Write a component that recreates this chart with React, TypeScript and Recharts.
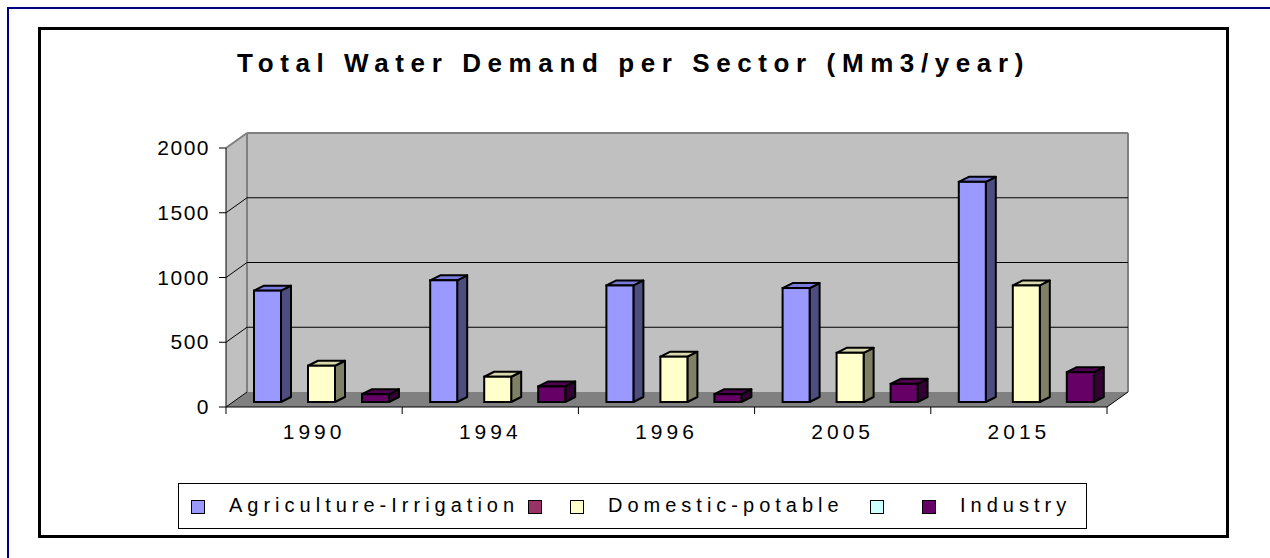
import React from 'react';
import { BarChart, Bar, XAxis, YAxis, ReferenceArea, ReferenceLine, Legend } from 'recharts';

const years = ['1990', '1994', '1996', '2005', '2015'];
const agriculture = [860, 940, 900, 880, 1700];
const domestic = [280, 195, 350, 380, 900];
const industry = [60, 120, 60, 140, 230];
const yTicks = [0, 500, 1000, 1500, 2000];
const gridValues = [500, 1000, 1500];

const legendNames = ['Agriculture-Irrigation', '', 'Domestic-potable', '', 'Industry'];
const legendColors = ['#9999FF', '#993366', '#FFFFCC', '#CCFFFF', '#660066'];

const data = years.map((y, i) => ({
  year: y,
  agriculture: agriculture[i],
  domestic: domestic[i],
  industry: industry[i],
}));

const FONT = '"Liberation Sans", Arial, sans-serif';
const DX = 21; // wall depth
const DY = -15;
const BDX = 10; // bar depth
const BDY = -5;
const SHIFT_X = 7; // bars at mid-depth
const SHIFT_Y = -5;

// legend layout (px from legend box left)
const legendSquareLeft = [12, 349, 391, 691, 743];
const legendTextLeft = [50, null, 429, null, 781];

const make3DBar = (front: string, top: string, side: string) => (props: any) => {
  const { x, y, width, height } = props;
  if (width == null || height == null || height <= 0) return <g />;
  const fx = x + SHIFT_X;
  const fy = y + SHIFT_Y;
  const w = width;
  const h = height;
  const topPts = `${fx},${fy} ${fx + BDX},${fy + BDY} ${fx + w + BDX},${fy + BDY} ${fx + w},${fy}`;
  const sidePts = `${fx + w},${fy} ${fx + w + BDX},${fy + BDY} ${fx + w + BDX},${fy + h + BDY} ${fx + w},${fy + h}`;
  return (
    <g>
      <polygon points={sidePts} fill={side} stroke="#000" strokeWidth={2} strokeLinejoin="round" />
      <polygon points={topPts} fill={top} stroke="#000" strokeWidth={2} strokeLinejoin="round" />
      <rect x={fx} y={fy} width={w} height={h} fill={front} stroke="#000" strokeWidth={2} />
    </g>
  );
};

const WallShape = (props: any) => {
  const { x, y, width, height } = props;
  const b = y + height;
  const side = `${x},${b} ${x},${y} ${x + DX},${y + DY} ${x + DX},${b + DY}`;
  const floor = `${x},${b} ${x + width},${b} ${x + width + DX},${b + DY} ${x + DX},${b + DY}`;
  return (
    <g>
      <polygon points={side} fill="#C0C0C0" />
      <rect x={x + DX} y={y + DY} width={width} height={height} fill="#C0C0C0" />
      <polygon points={floor} fill="#808080" />
      <line x1={x} y1={y} x2={x + DX} y2={y + DY} stroke="#808080" strokeWidth={2} />
      <line x1={x + DX} y1={y + DY} x2={x + DX + width} y2={y + DY} stroke="#808080" strokeWidth={2} />
      <line x1={x + DX} y1={y + DY} x2={x + DX} y2={b + DY} stroke="#808080" strokeWidth={2} />
      <line x1={x + DX + width} y1={y + DY} x2={x + DX + width} y2={b + DY} stroke="#808080" strokeWidth={2} />
      <line x1={x} y1={b} x2={x + DX} y2={b + DY} stroke="#000" strokeWidth={1} />
      <line x1={x + width} y1={b} x2={x + width + DX} y2={b + DY} stroke="#000" strokeWidth={1} />
    </g>
  );
};

const GridShape = (props: any) => {
  const { x1, y1, x2, y2 } = props;
  return (
    <g>
      <line x1={x1} y1={y1} x2={x1 + DX} y2={y1 + DY} stroke="#000" strokeWidth={1} />
      <line x1={x1 + DX} y1={y1 + DY} x2={x2 + DX} y2={y2 + DY} stroke="#000" strokeWidth={1} />
    </g>
  );
};

const YTick = (props: any) => {
  const { x, y, payload } = props;
  return (
    <text x={x} y={y} dy={7} textAnchor="end" fontFamily={FONT} fontSize={21} letterSpacing={1.5} fill="#000">
      {payload.value}
    </text>
  );
};

const XTick = (props: any) => {
  const { x, y, payload, index, visibleTicksCount } = props;
  const half = payload.offset ?? 0;
  const isLast = index === (visibleTicksCount ?? years.length) - 1;
  return (
    <g>
      <line x1={x - half} y1={y} x2={x - half} y2={y + 7} stroke="#000" strokeWidth={1} />
      {isLast && <line x1={x + half} y1={y} x2={x + half} y2={y + 7} stroke="#000" strokeWidth={1} />}
      <text x={x} y={y} dy={32} textAnchor="middle" fontFamily={FONT} fontSize={21} letterSpacing={4} fill="#000">
        {payload.value}
      </text>
    </g>
  );
};

const LegendContent = () => (
  <div
    style={{
      position: 'relative',
      width: '100%',
      height: '100%',
      fontFamily: FONT,
      fontSize: 20,
      letterSpacing: 5,
      color: '#000',
    }}
  >
    {legendNames.map((name, i) => (
      <React.Fragment key={i}>
        <span
          style={{
            position: 'absolute',
            left: legendSquareLeft[i],
            top: 16,
            width: 14,
            height: 14,
            boxSizing: 'border-box',
            background: legendColors[i],
            border: '1.5px solid #000',
          }}
        />
        {name && (
          <span
            style={{
              position: 'absolute',
              left: legendTextLeft[i] as number,
              top: 10,
              lineHeight: '22px',
              whiteSpace: 'nowrap',
            }}
          >
            {name}
          </span>
        )}
      </React.Fragment>
    ))}
  </div>
);

export default function App() {
  return (
    <div style={{ position: 'relative', width: 1270, height: 558, background: '#fff', overflow: 'hidden' }}>
      <style>{'body{margin:0;}'}</style>
      <div
        style={{
          position: 'absolute',
          left: 7,
          top: 7,
          width: 1300,
          height: 600,
          borderLeft: '2px solid #000080',
          borderTop: '2px solid #000080',
        }}
      />
      <div
        style={{
          position: 'absolute',
          left: 38,
          top: 27,
          width: 1191,
          height: 511,
          border: '3px solid #000',
          boxSizing: 'border-box',
        }}
      />
      <div
        style={{
          position: 'absolute',
          left: 38,
          width: 1191,
          top: 50,
          lineHeight: '26px',
          textAlign: 'center',
          fontFamily: FONT,
          fontWeight: 'bold',
          fontSize: 26,
          letterSpacing: 6.6,
          color: '#000',
        }}
      >
        Total Water Demand per Sector (Mm3/year)
      </div>
      <div style={{ position: 'absolute', left: 0, top: 0 }}>
        <BarChart
          width={1270}
          height={558}
          data={data}
          margin={{ top: 148, right: 163, bottom: 121, left: 166 }}
          barSize={27}
          barGap={27}
        >
          <ReferenceArea y1={0} y2={2000} shape={WallShape} ifOverflow="visible" zIndex={-60} />
          {gridValues.map((v) => (
            <ReferenceLine key={v} y={v} shape={GridShape} ifOverflow="visible" zIndex={-40} />
          ))}
          <XAxis
            dataKey="year"
            height={30}
            axisLine={{ stroke: '#000', strokeWidth: 1 }}
            tickLine={false}
            tickSize={0}
            tickMargin={0}
            tick={XTick}
            interval={0}
          />
          <YAxis
            width={60}
            domain={[0, 2000]}
            ticks={yTicks}
            interval={0}
            axisLine={{ stroke: '#000', strokeWidth: 1 }}
            tickLine={{ stroke: '#000', strokeWidth: 1 }}
            tickSize={7}
            tickMargin={9}
            tick={YTick}
          />
          <Legend
            verticalAlign="middle"
            layout="horizontal"
            content={LegendContent}
            wrapperStyle={{
              position: 'absolute',
              left: 178,
              top: 483,
              width: 909,
              height: 46,
              border: '1px solid #000',
              boxSizing: 'border-box',
              background: '#fff',
            }}
          />
          <Bar dataKey="agriculture" name="Agriculture-Irrigation" fill="#9999FF" isAnimationActive={false} shape={make3DBar('#9999FF', '#7B7BDB', '#4D4D80')} />
          <Bar dataKey="domestic" name="Domestic-potable" fill="#FFFFCC" isAnimationActive={false} shape={make3DBar('#FFFFCC', '#D9D9AD', '#808066')} />
          <Bar dataKey="industry" name="Industry" fill="#660066" isAnimationActive={false} shape={make3DBar('#660066', '#520052', '#330033')} />
        </BarChart>
      </div>
    </div>
  );
}
